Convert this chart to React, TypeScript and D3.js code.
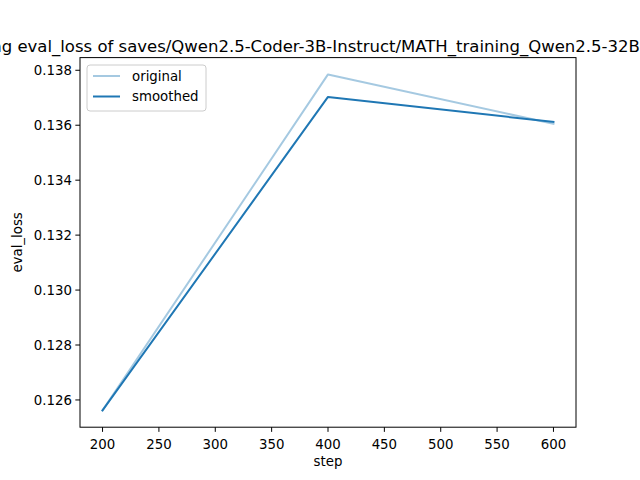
import React from "react";
import * as d3 from "d3";

const steps = [200, 400, 600];
const original = [0.12562, 0.13785, 0.13605];
const smoothed = [0.12562, 0.13703, 0.13612];
const xTicks = [200, 250, 300, 350, 400, 450, 500, 550, 600];
const yTicks = [0.126, 0.128, 0.13, 0.132, 0.134, 0.136, 0.138];
const title = "Training eval_loss of saves/Qwen2.5-Coder-3B-Instruct/MATH_training_Qwen2.5-32B-Instruct";

const W = 640, H = 480;
const L = 80, R = 576, T = 57.6, B = 427.2;
const font = "DejaVu Sans, sans-serif";

export default function App() {
  const xmin = d3.min(steps)!, xmax = d3.max(steps)!;
  const all = [...original, ...smoothed];
  const ymin = d3.min(all)!, ymax = d3.max(all)!;
  const xm = (xmax - xmin) * 0.05, ym = (ymax - ymin) * 0.05;
  const x = d3.scaleLinear().domain([xmin - xm, xmax + xm]).range([L, R]);
  const y = d3.scaleLinear().domain([ymin - ym, ymax + ym]).range([B, T]);
  const line = d3.line<number>().x((_, i) => x(steps[i])).y((d) => y(d));
  const blue = "#1f77b4";
  return (
    <svg width={W} height={H} style={{ position: "absolute", left: 0, top: 0, background: "#fff" }} fontFamily={font}>
      <rect x={0} y={0} width={W} height={H} fill="#fff" />
      <path d={line(original)!} fill="none" stroke={blue} strokeOpacity={0.4} strokeWidth={2} strokeLinejoin="round" strokeLinecap="square" />
      <path d={line(smoothed)!} fill="none" stroke={blue} strokeWidth={2} strokeLinejoin="round" strokeLinecap="square" />
      <rect x={L} y={T} width={R - L} height={B - T} fill="none" stroke="#000" strokeWidth={1} />
      {xTicks.map((t) => (
        <g key={t} transform={`translate(${x(t)},${B})`}>
          <line y1={0} y2={4.67} stroke="#000" strokeWidth={1} />
          <text y={18} fontSize={13.33} textAnchor="middle" dy="0.3em">{t}</text>
        </g>
      ))}
      {yTicks.map((t) => (
        <g key={t} transform={`translate(${L},${y(t)})`}>
          <line x1={0} x2={-4.67} stroke="#000" strokeWidth={1} />
          <text x={-8} fontSize={13.33} textAnchor="end" dy="0.35em">{t.toFixed(3)}</text>
        </g>
      ))}
      <text x={(L + R) / 2} y={466} fontSize={13.33} textAnchor="middle">step</text>
      <text transform={`translate(22,${(T + B) / 2}) rotate(-90)`} fontSize={13.33} textAnchor="middle">eval_loss</text>
      <text x={(L + R) / 2} y={52} fontSize={16.5} textAnchor="middle">{title}</text>
      <g transform="translate(87,65)">
        <rect x={0} y={0} width={119} height={46} rx={3} fill="#fff" fillOpacity={0.8} stroke="#ccc" strokeWidth={1} />
        <line x1={6} x2={33} y1={11} y2={11} stroke={blue} strokeOpacity={0.4} strokeWidth={2} />
        <text x={45} y={11} dy="0.35em" fontSize={13.33}>original</text>
        <line x1={6} x2={33} y1={31.5} y2={31.5} stroke={blue} strokeWidth={2} />
        <text x={45} y={31.5} dy="0.35em" fontSize={13.33}>smoothed</text>
      </g>
    </svg>
  );
}
